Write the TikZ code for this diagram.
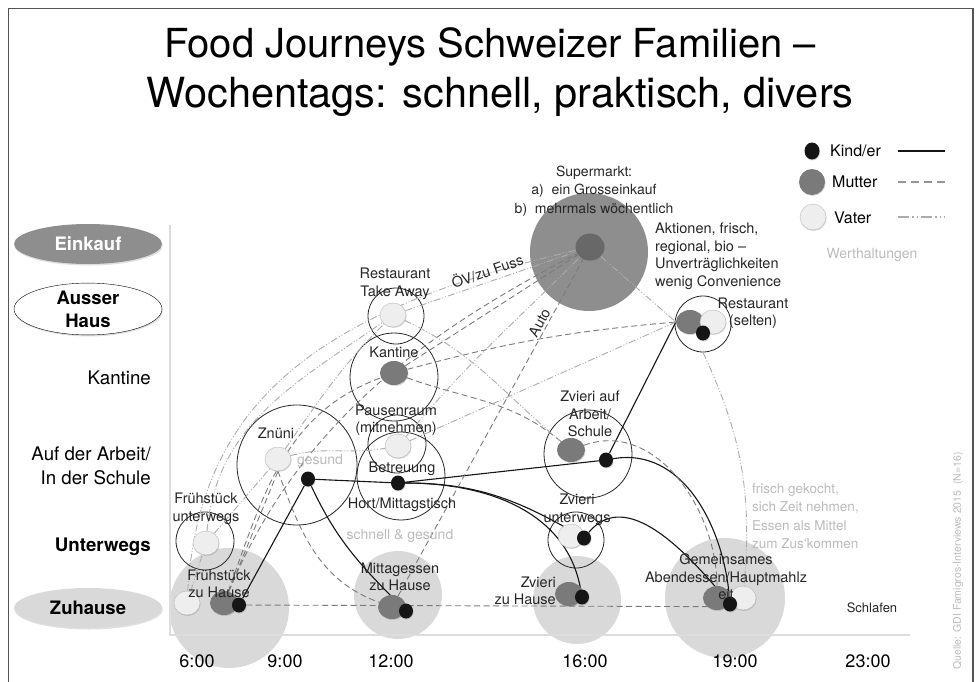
\documentclass[tikz,border=0pt]{standalone}
\usepackage{fontspec}
\setmainfont{TeX Gyre Heros}
\usetikzlibrary{shapes.geometric,shadows,positioning}

\pgfdeclarelayer{back}
\pgfdeclarelayer{mid}
\pgfsetlayers{back,mid,main}

\definecolor{kindcol}{HTML}{151515}
\definecolor{muttercol}{HTML}{7A7A7A}
\definecolor{vatercol}{HTML}{EEEEEE}
\definecolor{homecol}{HTML}{D9D9D9}
\definecolor{shopcol}{HTML}{8E8E8E}
\definecolor{wertcol}{HTML}{BBBBBB}
\definecolor{axiscol}{HTML}{DDDDDD}
\definecolor{framecol}{HTML}{555555}

\begin{document}
\begin{tikzpicture}[
    x=1pt, y=-1pt,
    dotshadow/.style={drop shadow={shadow xshift=0.6pt, shadow yshift=-1pt, opacity=0.3}},
    kind/.style={ellipse, fill=kindcol, minimum width=14pt, minimum height=15pt, inner sep=0pt, dotshadow},
    mutter/.style={ellipse, fill=muttercol, minimum width=28pt, minimum height=24pt, inner sep=0pt, dotshadow},
    vater/.style={ellipse, fill=vatercol, draw=gray!55, minimum width=26pt, minimum height=24pt, inner sep=0pt, dotshadow},
    ring/.style={circle, draw=black!85, line width=0.8pt, minimum size=#1, inner sep=0pt},
    home/.style={circle, fill=homecol, minimum size=#1, inner sep=0pt},
    lbl/.style={font=\fontsize{14.5}{17.5}\selectfont, align=center, text=black!85, inner sep=0pt},
    wert/.style={font=\fontsize{14}{18.5}\selectfont, align=left, text=wertcol, inner sep=0pt},
    side/.style={font=\fontsize{18.7}{23.5}\selectfont, align=right, anchor=east, inner sep=0pt},
    zeit/.style={font=\fontsize{18}{20}\selectfont, inner sep=0pt},
    legtext/.style={font=\fontsize{16}{18}\selectfont, anchor=west, inner sep=0pt},
    bereich/.style={ellipse, minimum width=148pt, minimum height=40pt, inner sep=0pt,
        align=center, font=\fontsize{18.5}{23}\selectfont\bfseries,
        drop shadow={shadow xshift=0.8pt, shadow yshift=-1.5pt, opacity=0.25}},
    kline/.style={line width=1.1pt, draw=kindcol},
    mline/.style={line width=0.9pt, draw=muttercol, dash pattern=on 6pt off 3.5pt},
    vline/.style={line width=0.9pt, draw=gray!65, dash pattern=on 7pt off 2pt on 1pt off 2pt on 1pt off 2pt}
  ]
  \useasboundingbox (0,0) rectangle (979,682);
  \draw[framecol, line width=1.5pt] (8.5,700) -- (8.5,8.5) -- (973,8.5) -- (973,700);

  % title
  \node[font=\fontsize{40}{48}\selectfont] (titel1) at (490,47) {Food Journeys Schweizer Familien –};
  \node[font=\fontsize{41.5}{48}\selectfont] (titel2) at (500,97) {Wochentags: schnell, praktisch, divers};

  % places on the left
  \node[bereich, fill=shopcol, text=white] (einkauf) at (88,244) {Einkauf};
  \node[bereich, fill=white, draw=black] (ausser) at (88,309) {Ausser\\Haus};
  \node[side] (kantineL) at (151,378) {Kantine};
  \node[side] (arbeitL) at (151,466) {Auf der Arbeit/\\In der Schule};
  \node[side, font=\fontsize{18.7}{22}\selectfont\bfseries] (unterwegsL) at (151,547) {Unterwegs};
  \node[bereich, fill=homecol] (zuhause) at (88,608) {Zuhause};

  \begin{pgfonlayer}{back}
    % home circles
    \node[home=120pt] (fzH) at (229,608) {};
    \node[home=88pt] (mzH) at (398,595) {};
    \node[home=88pt] (zhH) at (577,600) {};
    \node[home=120pt] (abH) at (725,598) {};
    \node[circle, fill=shopcol, minimum size=118pt, inner sep=0pt] (suH) at (589,252) {};
    % rings
    \node[ring=58pt] (fuR) at (205,541) {};
    \node[ring=120pt] (znR) at (297,465) {};
    \node[ring=56pt] (rtR) at (396,316) {};
    \node[ring=88pt] (kaR) at (394,377) {};
    \node[ring=58pt] (paR) at (397,444) {};
    \node[ring=88pt] (beR) at (401,476) {};
    \node[ring=56pt] (rsR) at (703,324) {};
    \node[ring=88pt] (zaR) at (588,454) {};
    \node[ring=56pt] (zuR) at (576,540) {};
    % axes
    \draw[axiscol, line width=2pt] (170,225) -- (170,635) -- (910,635);
  \end{pgfonlayer}

  % dots
  \node[vater] (fzV) at (187,603) {};
  \node[mutter] (fzM) at (224,603) {};
  \node[kind] (fzK) at (239,605) {};
  \node[vater] (fuV) at (206,543) {};
  \node[vater] (znV) at (278,459) {};
  \node[kind] (znK) at (308,479) {};
  \node[vater] (rtV) at (393,315) {};
  \node[mutter] (kaM) at (394,373) {};
  \node[vater] (paV) at (398,446) {};
  \node[kind] (beK) at (398,483) {};
  \node[mutter] (mzM) at (392,607) {};
  \node[kind] (mzK) at (406,611) {};
  \node[mutter, fill=muttercol!85!black, minimum width=29pt, minimum height=27pt] (suM) at (590,247) {};
  \node[mutter] (rsM) at (690,322) {};
  \node[vater] (rsV) at (713,322) {};
  \node[kind] (rsK) at (703,333) {};
  \node[mutter] (zaM) at (571,450) {};
  \node[kind] (zaK) at (606,460) {};
  \node[vater] (zuV) at (571,536) {};
  \node[kind] (zuK) at (584,538) {};
  \node[mutter] (zhM) at (569,594) {};
  \node[kind] (zhK) at (582,597) {};
  \node[mutter] (abM) at (717,598) {};
  \node[vater] (abV) at (743,598) {};
  \node[kind] (abK) at (730,604) {};

  \begin{pgfonlayer}{mid}
    % Kind/er
    \draw[kline] (fzK) -- (znK);
    \draw[kline] (znK) -- (beK);
    \draw[kline] (znK) to[out=-65,in=135] (mzK);
    \draw[kline] (beK) -- (zaK);
    \draw[kline] (beK) to[out=0,in=150] (zuK);
    \draw[kline] (beK) to[out=0,in=100] (zhK);
    \draw[kline] (zaK) -- (rsM.west);
    \draw[kline] (zaK) to[out=10,in=95] (abK);
    \draw[kline] (zuK) to[out=50,in=130] (abK);
    % Mutter
    \draw[mline] (fzK) -- (abM.south west);
    \draw[mline] (fzM) -- (znV.south);
    \draw[mline] (znV.south) to[out=-70,in=160] (mzM);
    \draw[mline] (fzM) .. controls (300,420) and (430,330) .. (suM);
    \draw[mline] (fzM) to[out=70,in=200] (kaM);
    \draw[mline] (mzM) -- node[sloped, above=2pt, pos=0.8, lbl] {Auto} (suM);
    \draw[mline] (kaM) -- (suM);
    \draw[mline] (kaM) to[bend left=5] (rsM.west);
    \draw[mline] (kaM) to[out=-20,in=140] (zaM);
    \draw[mline] (zaM) to[out=20,in=90] (abM);
    % Vater
    \draw[vline] (fzV) -- (fuV);
    \draw[vline] (fuV) -- (znV);
    \draw[vline] (fuV) to[out=85,in=215] (rtV);
    \draw[vline] (fzV) .. controls (200,400) and (320,310) .. (suM);
    \draw[vline] (rtV) -- node[sloped, above=4pt, lbl] {ÖV/zu Fuss} (suM);
    \draw[vline] (znV) to[out=15,in=190] (paV);
    \draw[vline] (znV) to[out=55,in=225] (rtV);
    \draw[vline] (paV) -- (rsM.west);
    \draw[vline] (paV) to[out=50,in=225] (suM);
    \draw[vline] (rtV) to[out=-25,in=140] (zaM);
    \draw[vline] (suM) -- (rsM.west);
    \draw[vline] (rsR.south) to[out=-65,in=85] (abV);
  \end{pgfonlayer}

  % labels
  \node[lbl] (fuT) at (206,509) {Frühstück\\unterwegs};
  \node[lbl] (fzT) at (219,584) {Frühstück\\zu Hause};
  \node[lbl] (znT) at (276,433) {Znüni};
  \node[wert] (gesundT) at (320,461) {gesund};
  \node[lbl] (rtT) at (395,284) {Restaurant\\Take Away};
  \node[lbl] (kaT) at (394,352) {Kantine};
  \node[lbl] (paT) at (396,420) {Pausenraum\\(mitnehmen)};
  \node[lbl] (beT) at (402,469) {Betreuung};
  \node[lbl] (hoT) at (402,505) {Hort/Mittagstisch};
  \node[wert] (schnellT) at (400,536) {schnell \& gesund};
  \node[lbl] (mzT) at (400,577) {Mittagessen\\zu Hause};
  \node[lbl, font=\fontsize{14}{18.5}\selectfont] (suT) at (594,191) {Supermarkt:\\a)\; ein Grosseinkauf\\b)\; mehrmals wöchentlich};
  \node[lbl, anchor=north west, align=left] (aktT) at (655,223) {Aktionen, frisch,\\regional, bio –\\Unverträglichkeiten\\wenig Convenience};
  \node[lbl] (rsT) at (753,313) {Restaurant\\(selten)};
  \node[lbl] (zaT) at (590,414) {Zvieri auf\\Arbeit/\\Schule};
  \node[lbl] (zuT) at (577,510) {Zvieri\\unterwegs};
  \node[lbl, align=right, anchor=east] (zhT) at (556,591) {Zvieri\\zu Hause};
  \node[lbl] (abT) at (726,577) {Gemeinsames\\Abendessen/Hauptmahlz\\eit};
  \node[wert, anchor=north west, font=\fontsize{13.5}{18.5}\selectfont] (frischT) at (752,483) {frisch gekocht,\\sich Zeit nehmen,\\Essen als Mittel\\zum Zus‘kommen};
  \node[lbl, font=\fontsize{13}{15}\selectfont] (schlafT) at (872,608) {Schlafen};

  % time axis
  \node[zeit] (t6) at (197,661) {6:00};
  \node[zeit] (t9) at (285,661) {9:00};
  \node[zeit] (t12) at (391,661) {12:00};
  \node[zeit] (t16) at (585,661) {16:00};
  \node[zeit] (t19) at (735,661) {19:00};
  \node[zeit] (t23) at (868,661) {23:00};

  % legend
  \node[kind, minimum width=15pt, minimum height=17pt] (legK) at (812,151) {};
  \node[mutter, minimum width=26pt, minimum height=26pt] (legM) at (812,182) {};
  \node[vater, minimum width=26pt, minimum height=26pt] (legV) at (813,217) {};
  \node[legtext] (legKT) at (830,151) {Kind/er};
  \node[legtext] (legMT) at (832,182) {Mutter};
  \node[legtext] (legVT) at (834,218) {Vater};
  \coordinate (lk1) at (898,151); \coordinate (lk2) at (945,151);
  \coordinate (lm1) at (898,182); \coordinate (lm2) at (945,182);
  \coordinate (lv1) at (898,217); \coordinate (lv2) at (945,217);
  \draw[kindcol, line width=2.2pt] (lk1) -- (lk2);
  \draw[muttercol!80, line width=2.5pt, dash pattern=on 8pt off 5pt] (lm1) -- (lm2);
  \draw[gray!65, line width=2pt, dash pattern=on 11pt off 3pt on 1.5pt off 3pt on 1.5pt off 3pt] (lv1) -- (lv2);
  \node[wert] (wertT) at (872,255) {Werthaltungen};

  % source
  \node[font=\fontsize{10.5}{12}\selectfont, text=wertcol, rotate=90] (quelle) at (958,561) {Quelle: GDI Famigros-Interviews 2015\ \ (N=16)};
\end{tikzpicture}
\end{document}
